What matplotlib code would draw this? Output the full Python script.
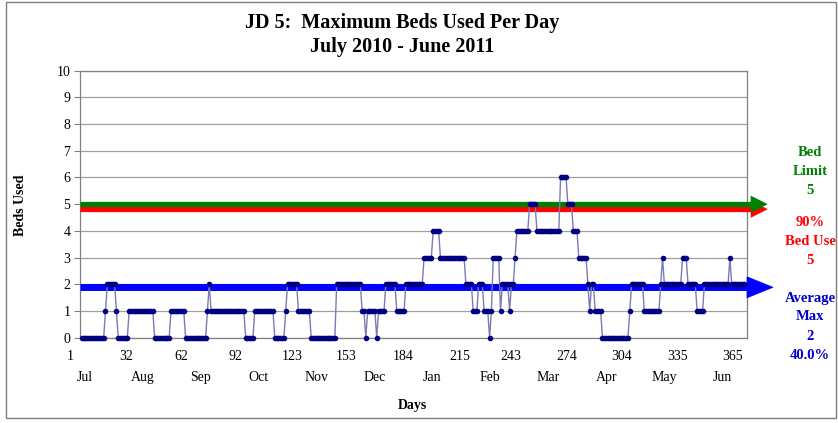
import numpy as np
import matplotlib
matplotlib.use("Agg")
import matplotlib.pyplot as plt
from matplotlib import transforms
from matplotlib.patches import Polygon, Rectangle

plt.rcParams['font.family'] = ['Liberation Serif', 'DejaVu Serif']

# Daily maximum beds used, stored as runs of equal values (value, number of days)
run_values = [0, 1, 2, 1, 0, 1, 0, 1, 0, 1, 2, 1, 0, 1, 0, 1, 2, 1, 0, 2,
              1, 0, 1, 0, 1, 2, 1, 2, 3, 4, 3, 2, 1, 2, 1, 0, 1, 3, 1, 2,
              1, 2, 3, 4, 5, 4, 6, 5, 4, 3, 2, 1, 2, 1, 0, 1, 2, 1, 2, 3,
              2, 3, 2, 1, 2, 3, 2]
run_lengths = [13, 1, 5, 1, 6, 14, 9, 8, 12, 1, 1, 19, 5, 11, 6, 1, 6, 7, 14, 14,
               2, 1, 5, 1, 4, 6, 5, 10, 5, 4, 14, 4, 3, 3, 3, 1, 1, 4, 1, 4,
               1, 2, 1, 7, 4, 13, 4, 3, 3, 5, 1, 1, 2, 4, 15, 1, 7, 9, 1, 1,
               10, 3, 5, 4, 14, 1, 8]
beds = np.repeat(run_values, run_lengths)
days = np.arange(1, len(beds) + 1)

day_ticks = [1, 32, 62, 92, 123, 153, 184, 215, 243, 274, 304, 335, 365]
months = ["Jul", "Aug", "Sep", "Oct", "Nov", "Dec",
          "Jan", "Feb", "Mar", "Apr", "May", "Jun"]

bed_limit = 5
use_pct = 90
bed_use = int(np.floor(bed_limit * use_pct / 100 + 0.5))
avg_max = int(np.floor(beds.mean() + 0.5))
avg_pct = avg_max / bed_limit * 100

W, H, DPI = 838, 423, 100
fig = plt.figure(figsize=(W / DPI, H / DPI), dpi=DPI)
fig.patch.set_facecolor("white")

# outer chart frame
fig.patches.append(Rectangle((6 / W, 1 - 418 / H), (836 - 6) / W, (418 - 2) / H,
                             transform=fig.transFigure, fill=False,
                             edgecolor="#7f7f7f", lw=1.0))

L, R, T, B = 80, 747, 70.7, 337.7
ax = fig.add_axes([L / W, 1 - B / H, (R - L) / W, (B - T) / H])

ax.set_xlim(0, 366.4)
ax.set_ylim(0, 10)
ax.set_yticks(range(0, 11))
ax.yaxis.grid(True, color="#a0a0a0", lw=0.9)
ax.set_axisbelow(True)
for s in ax.spines.values():
    s.set_color("#808080")
    s.set_linewidth(0.9)
ax.tick_params(axis="y", length=4, color="#808080", labelsize=10, pad=3)
ax.tick_params(axis="x", length=0, labelsize=10, pad=9)

ax.set_xticks(day_ticks)
ax.set_xticklabels([str(d) for d in day_ticks])
shift = transforms.ScaledTranslation(-12 / DPI, 0, fig.dpi_scale_trans)
for lab in ax.get_xticklabels():
    lab.set_transform(lab.get_transform() + shift)

# month names, evenly spread under the day numbers
mtrans = transforms.blended_transform_factory(ax.transAxes, ax.transAxes)
for name, fx in zip(months, np.linspace((85 - L) / (R - L), (722 - L) / (R - L), len(months))):
    ax.text(fx, -0.148, name, transform=mtrans, ha="center", va="center", fontsize=10)

# reference lines with arrow heads past the plot edge
blend = transforms.blended_transform_factory(ax.transAxes, ax.transData)


def ref_line(value, color, lw, dy_px, tip_px, head_len_px, half_h_px, z):
    off = transforms.ScaledTranslation(0, -dy_px / DPI, fig.dpi_scale_trans)
    tr = blend + off
    px = 1.0 / (R - L)
    base = 1.0 + (tip_px - head_len_px) * px
    ax.plot([0, base], [value, value], color=color, lw=lw, transform=tr,
            clip_on=False, solid_capstyle="butt", zorder=z)
    hy = half_h_px / ((B - T) / 10)
    tri = Polygon([[base, value - hy], [base, value + hy], [1.0 + tip_px * px, value]],
                  closed=True, facecolor=color, edgecolor=color, lw=0.5,
                  transform=tr, clip_on=False, zorder=z)
    ax.add_patch(tri)


ref_line(bed_use, "#ff0000", 3.8, 5, 20, 16, 8, 3)
ref_line(bed_limit, "#008000", 3.8, 0, 20, 16, 8, 3.1)
ref_line(avg_max, "#0000ff", 5.0, 3, 26, 26, 10.5, 3.2)

ax.plot(days, beds, color="#7b7bb8", lw=1.0, marker="o", markersize=3.0,
        markerfacecolor="#000080", markeredgecolor="#000080", zorder=5, clip_on=False)

fig.text(402 / W, 1 - 23 / H, "JD 5:  Maximum Beds Used Per Day", ha="center", va="center",
         fontsize=14.5, fontweight="bold")
fig.text(402 / W, 1 - 47 / H, "July 2010 - June 2011", ha="center", va="center",
         fontsize=14.5, fontweight="bold")
fig.text(20 / W, 1 - 205 / H, "Beds Used", rotation=90, ha="center", va="center",
         fontsize=10, fontweight="bold")
fig.text(412 / W, 1 - 405 / H, "Days", ha="center", va="center",
         fontsize=10, fontweight="bold")

side_x = 810 / W
side = [
    (["Bed", "Limit", str(bed_limit)], 152, "#008000"),
    ([f"{use_pct}%", "Bed Use", str(bed_use)], 222, "#ff0000"),
    (["Average", "Max", str(avg_max), f"{avg_pct:.1f}%"], 298, "#0000cc"),
]
for lines, y0, col in side:
    for i, t in enumerate(lines):
        fig.text(side_x, 1 - (y0 + 19 * i) / H, t, ha="center", va="center",
                 fontsize=10.5, fontweight="bold", color=col)

fig.savefig("out.png", dpi=DPI)
